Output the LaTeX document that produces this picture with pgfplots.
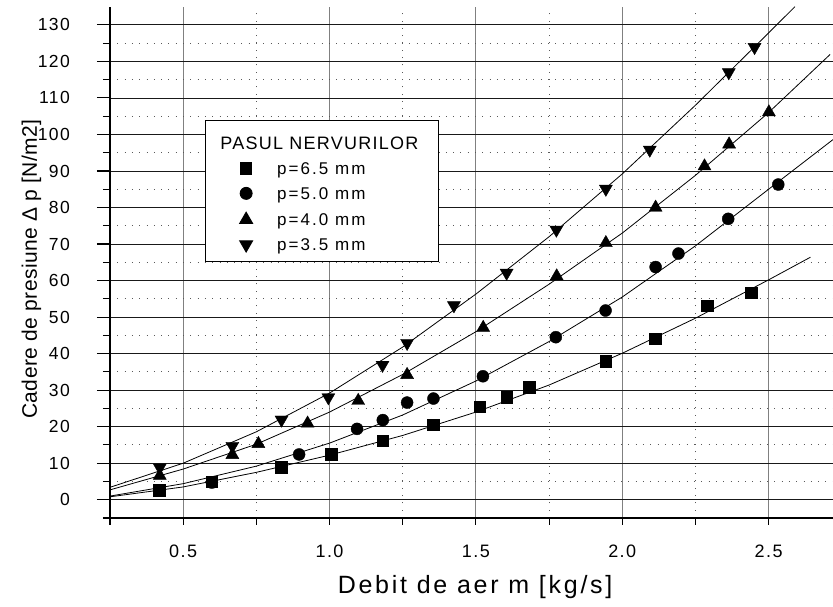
\documentclass[border=0pt]{standalone}
\usepackage{fontspec}
\setmainfont{Liberation Sans}
\newfontfamily\tickfont{Liberation Sans}[LetterSpace=8]
\newfontfamily\xlabfont{Liberation Sans}[LetterSpace=11]
\newfontfamily\ylabfont{Liberation Sans}[LetterSpace=2]
\newfontfamily\legtitlefont{Liberation Sans}[LetterSpace=7]
\newfontfamily\legfont{Liberation Sans}[LetterSpace=12]
\usepackage{pgfplots}
\pgfplotsset{compat=1.18}
\pgfplotsset{
  legmark/.style={legend image code/.code={%
      \draw[##1] plot coordinates {(0pt,5.8pt)};}},
}
\begin{document}
\begin{tikzpicture}
\useasboundingbox (0,0) rectangle (833pt,607pt);
\begin{axis}[
  at={(110pt,89pt)}, anchor=south west,
  scale only axis, width=723pt, height=511pt,
  xmin=0.25, xmax=2.72, ymin=-5, ymax=134.9,
  axis x line*=bottom, axis y line*=left,
  axis line style={line width=1.8pt, -},
  xtick={0,0.5,...,3}, minor x tick num=1,
  ytick={-10,0,...,140}, minor y tick num=1,
  tick align=outside,
  major tick length=7pt, minor tick length=7pt,
  every major y tick/.append style={/pgfplots/major tick length=13pt},
  tick style={black, line width=1.1pt},
  grid=both,
  major grid style={line width=0.8pt, black!70},
  every major x grid/.append style={black!50, line width=1pt},
  every major y grid/.append style={black!90, line width=0.8pt},
  minor grid style={line width=0.9pt, black!65, dash pattern=on 1pt off 6.3pt},
  /pgf/number format/assume math mode=true,
  xticklabel style={font=\tickfont\fontsize{18}{20}\selectfont, anchor=base, inner sep=0pt, yshift=-33pt,
     /pgf/number format/.cd, fixed, fixed zerofill, precision=1},
  yticklabel style={font=\tickfont\fontsize{17.5}{20}\selectfont, anchor=east, inner sep=0pt, xshift=-33pt},
  xlabel={Debit de aer m [kg/s]},
  xlabel style={at={(axis description cs:0.505,-0.1468)}, anchor=base, inner sep=0pt,
     font=\xlabfont\fontsize{25}{28}\selectfont},
  ylabel={Cadere de presiune Δ p [N/m2]},
  ylabel style={at={(axis description cs:-0.1010,0.487)}, anchor=base, inner sep=0pt,
     font=\ylabfont\fontsize{21}{25}\selectfont},
  legend style={at={(axis description cs:0.1318,0.7789)}, anchor=north west,
     draw=black, line width=0.9pt, fill=white, inner xsep=33.9pt, inner ysep=9pt,
     column sep=24.5pt, row sep=11.5pt,
     nodes={inner sep=0pt, font=\legfont\fontsize{17}{19}\selectfont},
     cells={anchor=base west}},
]
% fitted curves
\addplot[black, line width=0.8pt, forget plot] coordinates {
 (0.25,0.8) (0.5,3.5) (0.75,7.5) (1.0,12.2) (1.25,17.6) (1.5,24.0) (1.75,31.4) (2.0,40.1) (2.25,49.7) (2.5,60.2) (2.643,66.4)};
\addplot[black, line width=0.8pt, forget plot] coordinates {
 (0.25,1.0) (0.5,4.4) (0.75,9.2) (1.0,15.5) (1.25,23.2) (1.5,32.5) (1.75,43.3) (2.0,55.5) (2.25,69.5) (2.5,85.0) (2.72,98.6)};
\addplot[black, line width=0.8pt, forget plot] coordinates {
 (0.25,2.7) (0.5,8.4) (0.75,15.2) (1.0,24.0) (1.25,34.3) (1.5,46.0) (1.75,59.0) (2.0,73.0) (2.25,88.8) (2.5,106.0) (2.71,121.9)};
\addplot[black, line width=0.8pt, forget plot] coordinates {
 (0.25,3.4) (0.5,10.0) (0.75,18.6) (1.0,29.2) (1.25,41.8) (1.5,56.3) (1.75,72.0) (2.0,89.2) (2.25,108.0) (2.5,127.8) (2.59,135.0)};

\addlegendimage{empty legend}
\addlegendentry{\hspace*{-56.7pt}\rule[-2pt]{0pt}{22pt}\legtitlefont\fontsize{18}{20}\selectfont PASUL NERVURILOR\hspace*{-13.9pt}}

\addplot[legmark, only marks, mark=square*, mark size=5.7pt, black] coordinates {
 (0.418,2.6) (0.598,4.9) (0.835,8.9) (1.006,12.5) (1.181,16.2) (1.354,20.6) (1.513,25.5) (1.605,28.1) (1.682,30.8) (1.944,37.9) (2.112,44.1) (2.29,53.2) (2.44,56.7)};
\addlegendentry{p=6.5 mm}
\addplot[legmark, only marks, mark=*, mark size=6pt, black] coordinates {
 (0.598,4.7) (0.896,12.4) (1.094,19.4) (1.182,21.8) (1.265,26.6) (1.355,27.7) (1.524,33.8) (1.773,44.5) (1.943,51.8) (2.114,63.7) (2.192,67.4) (2.362,76.9) (2.533,86.3)};
\addlegendentry{p=5.0 mm}
\addplot[legmark, only marks, mark=triangle*, mark size=7.5pt, black] coordinates {
 (0.42,6.6) (0.668,12.3) (0.757,15.3) (0.925,20.9) (1.098,27.1) (1.265,34.2) (1.525,47.1) (1.776,61.2) (1.944,70.3) (2.114,80.0) (2.281,91.3) (2.365,97.3) (2.501,106.1)};
\addlegendentry{p=4.0 mm}
\addplot[legmark, only marks, mark=triangle*, mark size=7.5pt, mark options={rotate=180}, black] coordinates {
 (0.42,8.8) (0.668,14.7) (0.836,21.9) (0.996,28.0) (1.181,36.9) (1.265,42.9) (1.425,53.2) (1.605,62.1) (1.775,73.9) (1.944,85.1) (2.094,95.8) (2.364,117.0) (2.452,123.9)};
\addlegendentry{p=3.5 mm}
\end{axis}
\end{tikzpicture}
\end{document}
